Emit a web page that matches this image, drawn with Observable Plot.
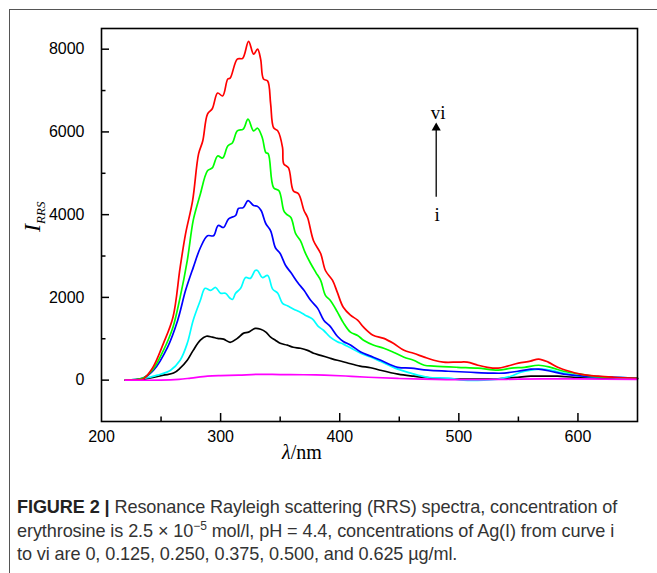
<!DOCTYPE html>
<html>
<head>
<meta charset="utf-8">
<script src="https://cdn.jsdelivr.net/npm/d3@7"></script>
<script src="https://cdn.jsdelivr.net/npm/@observablehq/plot@0.6"></script>
<style>
  html, body { margin: 0; padding: 0; background: #fff; }
  #wrap { position: relative; width: 657px; height: 573px; overflow: hidden; background: #fff; }
  #border { position: absolute; left: 9px; top: 9px; width: 700px; height: 600px;
            border-top: 1.5px solid #555; border-left: 1.5px solid #555; z-index: 2; pointer-events: none; }
  #chart { position: absolute; left: 0; top: 0; z-index: 1; }
  #caption { position: absolute; left: 17px; top: 496px; width: 640px;
             font-family: "Liberation Sans", Arial, sans-serif; font-size: 18.1px;
             line-height: 23.5px; color: #333; white-space: nowrap; letter-spacing: -0.1px; }
  #caption b { color: #222; }
  #caption sup { font-size: 12px; line-height: 0; }
</style>
</head>
<body>
<div id="wrap">
  <div id="border"></div>
  <div id="chart"></div>
  <div id="caption"><b>FIGURE 2 |</b> Resonance Rayleigh scattering (RRS) spectra, concentration of<br>erythrosine is 2.5 &times; 10<sup>&minus;5</sup> mol/l, pH = 4.4, concentrations of Ag(I) from curve i<br>to vi are 0, 0.125, 0.250, 0.375, 0.500, and 0.625 &micro;g/ml.</div>
</div>
<script>
// ---- Data (wavelength nm, RRS intensity) ----
const curveI = [[220,0],[250,0],[265,20],[275,50],[289,95],[300,110],[315,120],[331,140],[350,135],[370,130],[387,120],[405,100],[424,70],[450,40],[480,20],[510,10],[540,20],[570,30],[600,30],[650,20]];
const curveII = [[220,0],[235,20],[252,120],[260.5,170],[266,290],[272,480],[277,720],[283,965],[288,1060],[293,1040],[297.5,1010],[302.5,990],[308,915],[314,1010],[319,1130],[323.5,1160],[329,1250],[333.6,1230],[338,1160],[342,1040],[346,965],[350,890],[356,845],[361,795],[367,770],[373,720],[378,650],[384,600],[392,530],[398,480],[406,420],[417,340],[426,300],[434,240],[449,145],[462,95],[476.5,50],[491,25],[510,25],[529,25],[541,50],[549.6,70],[560.5,95],[571,95],[583,95],[596.6,70],[617,50],[650,40]];
const curveIII = [[220,0],[235,40],[247,120],[258,240],[266,480],[272,890],[277,1450],[283,1930],[287,2220],[291.6,2170],[295.8,2240],[300,2100],[304,2100],[308,1980],[310,1950],[312.6,2100],[316.8,2220],[321,2480],[325,2460],[329,2650],[331,2650],[335,2480],[339.5,2530],[343.7,2200],[348,2100],[352,1855],[356,1800],[361,1720],[367,1640],[371,1570],[377,1480],[382,1300],[386.6,1200],[392,1040],[398,930],[403,870],[409,780],[417.6,650],[426,560],[434.5,450],[448.7,265],[459.7,170],[474,70],[491,50],[504,0],[521,0],[533,25],[543.7,95],[552,190],[560.5,240],[569,265],[577,240],[588,170],[602.5,95],[630,70],[650,45]];
const curveIV = [[220,0],[235,50],[243.7,240],[255.5,800],[264,1450],[270.6,2170],[277,2720],[283,3200],[289,3490],[294,3490],[298,3740],[302.5,3690],[306.7,3900],[312.6,3980],[315,4150],[319,4170],[323,4340],[327.7,4220],[331,4200],[334,4100],[338,3780],[342,3610],[346,3200],[350,3060],[354.6,2770],[359,2600],[364.7,2360],[370,2170],[375.6,1930],[381.5,1735],[386.6,1450],[392,1300],[398,1060],[403,935],[409,850],[417.6,680],[426,580],[434.5,480],[448.7,310],[459.7,290],[474,240],[491,215],[510,190],[527,170],[538,170],[549.6,215],[560.5,265],[567,265],[577,215],[588,145],[605,95],[630,70],[650,45]];
const curveV = [[220,0],[235,50],[243,250],[252,720],[260,1280],[266,2000],[272,2890],[277,3860],[281,4300],[283,4500],[289,5060],[293,5130],[297.5,5420],[301.7,5370],[306,5660],[310,5740],[314,6025],[319,6070],[323,6310],[327.7,6025],[331,6090],[335,5860],[338,5500],[340,5470],[344.5,4650],[349,4580],[353,4100],[355,4020],[359,3930],[363,3540],[367,3370],[371,3080],[375.6,2820],[380,2600],[384,2410],[388,2050],[392,1930],[398,1650],[403,1390],[409,1160],[415,1080],[420,965],[428.6,845],[437,770],[445,675],[454,555],[462,480],[471,360],[479,340],[499,310],[516,290],[533,240],[544,290],[555,310],[567,360],[577,310],[588,215],[602,145],[622,70],[650,45]];
const curveVI = [[220,0],[230,10],[235,30],[243,300],[252,890],[260,1520],[266,2720],[270.6,3540],[276.5,4340],[281.5,5470],[285,5780],[289,6430],[293,6560],[297.5,6940],[301.7,6870],[306,7280],[308,7300],[314,7760],[318.5,7780],[323.5,8190],[327.7,7880],[331,8000],[333.6,7760],[336,7280],[339.5,7230],[342,6680],[344.5,6100],[348,6025],[352,5620],[353,5230],[357,5130],[361,4580],[365.5,4500],[370,4100],[373,3930],[378,3370],[384,3060],[388,2650],[394,2410],[398,2120],[403,1760],[409,1570],[415,1450],[420,1280],[428,1085],[437,1010],[445,890],[454,720],[462,650],[471,555],[479,480],[487,435],[499,435],[507,435],[516,360],[524,310],[533,290],[541,340],[550,410],[560,460],[567,510],[575,435],[583,310],[592,220],[602,145],[617,95],[630,70],[650,45]];

const seriesNames = ["ii", "iii", "iv", "v", "vi", "i"];
const seriesData = [curveII, curveIII, curveIV, curveV, curveVI, curveI];
const seriesColors = ["#000000", "#00ffff", "#0000ff", "#00ff00", "#ff0000", "#ff00ff"];

const xDomain = [200, 650];
const yDomain = [-1000, 8500];
const xTickLabels = [200, 300, 400, 500, 600];
const xMajorTicks = [300, 400, 500, 600];
const xMinorTicks = [250, 350, 450, 550];
const yTickLabels = [0, 2000, 4000, 6000, 8000];
const yMinorTicks = [1000, 3000, 5000, 7000];

// annotation arrow (i -> vi), in data units
const arrowAnno = [{x: 481, yTail: 4420, yHead: 6100, labelLow: "i", yLow: 4000, labelHigh: "vi", yHigh: 6470}];

const rows = seriesData.flatMap((s, k) => s.map(([w, v]) => ({series: seriesNames[k], w, v})));

const W = 657, H = 470, mL = 101, mR = 20, mT = 28, mB = 49;
const fw = W - mL - mR, fh = H - mT - mB;
// tick lengths converted from pixels to data units
const xPerPx = (xDomain[1] - xDomain[0]) / fw, yPerPx = (yDomain[1] - yDomain[0]) / fh;

const plot = Plot.plot({
  width: W, height: H,
  marginLeft: mL, marginRight: mR, marginTop: mT, marginBottom: mB,
  style: {fontFamily: "'Liberation Sans', Arial, sans-serif", fontSize: "16px", color: "#000", background: "transparent"},
  x: {domain: xDomain},
  y: {domain: yDomain},
  color: {domain: seriesNames, range: seriesColors},
  marks: [
    Plot.line(rows, {x: "w", y: "v", z: "series", stroke: "series", strokeWidth: 1.7, curve: "catmull-rom"}),
    Plot.ruleX(xMajorTicks, {x: d => d, y1: yDomain[0], y2: yDomain[0] + 8 * yPerPx, stroke: "#000", strokeWidth: 1.5}),
    Plot.ruleX(xMinorTicks, {x: d => d, y1: yDomain[0], y2: yDomain[0] + 4.5 * yPerPx, stroke: "#000", strokeWidth: 1.5}),
    Plot.ruleY(yTickLabels, {y: d => d, x1: xDomain[0], x2: xDomain[0] + 8 * xPerPx, stroke: "#000", strokeWidth: 1.5}),
    Plot.ruleY(yMinorTicks, {y: d => d, x1: xDomain[0], x2: xDomain[0] + 4.5 * xPerPx, stroke: "#000", strokeWidth: 1.5}),
    Plot.axisX(xTickLabels, {tickSize: 0, tickPadding: 9, label: null, fill: "#000", tickFormat: d3.format("d")}),
    Plot.axisY(yTickLabels, {tickSize: 0, tickPadding: 17, label: null, fill: "#000", tickFormat: d3.format("d")}),
    Plot.ruleX(arrowAnno, {x: "x", y1: "yTail", y2: "yHead", strokeWidth: 1.3}),
    Plot.dot(arrowAnno, {x: "x", y: "yHead", symbol: "triangle", r: 3.4, fill: "#000", stroke: "none"}),
    Plot.text(arrowAnno, {x: "x", y: "yHigh", text: "labelHigh", fontFamily: "'Liberation Serif', 'Times New Roman', serif", fontSize: 19, dx: 2}),
    Plot.text(arrowAnno, {x: "x", y: "yLow", text: "labelLow", fontFamily: "'Liberation Serif', 'Times New Roman', serif", fontSize: 19, dx: 1}),
    Plot.frame({stroke: "#000", strokeWidth: 1.6})
  ]
});

const svg = d3.select(plot);
// y-axis title: I_RRS
const yt = svg.append("text")
  .attr("transform", "translate(40,232) rotate(-90)")
  .attr("font-family", "'Liberation Serif', 'Times New Roman', serif")
  .attr("fill", "#000")
  .attr("text-anchor", "start");
yt.append("tspan").attr("font-style", "italic").attr("font-size", 24).text("I");
yt.append("tspan").attr("font-style", "italic").attr("font-size", 13).attr("dy", 5).text("RRS");
// x-axis title: λ/nm
const xt = svg.append("text")
  .attr("x", 302).attr("y", 459)
  .attr("font-family", "'Liberation Serif', 'Times New Roman', serif")
  .attr("font-size", 20)
  .attr("fill", "#000")
  .attr("text-anchor", "middle");
xt.append("tspan").attr("font-style", "italic").text("λ");
xt.append("tspan").text("/nm");

document.getElementById("chart").appendChild(plot);
</script>
</body>
</html>
